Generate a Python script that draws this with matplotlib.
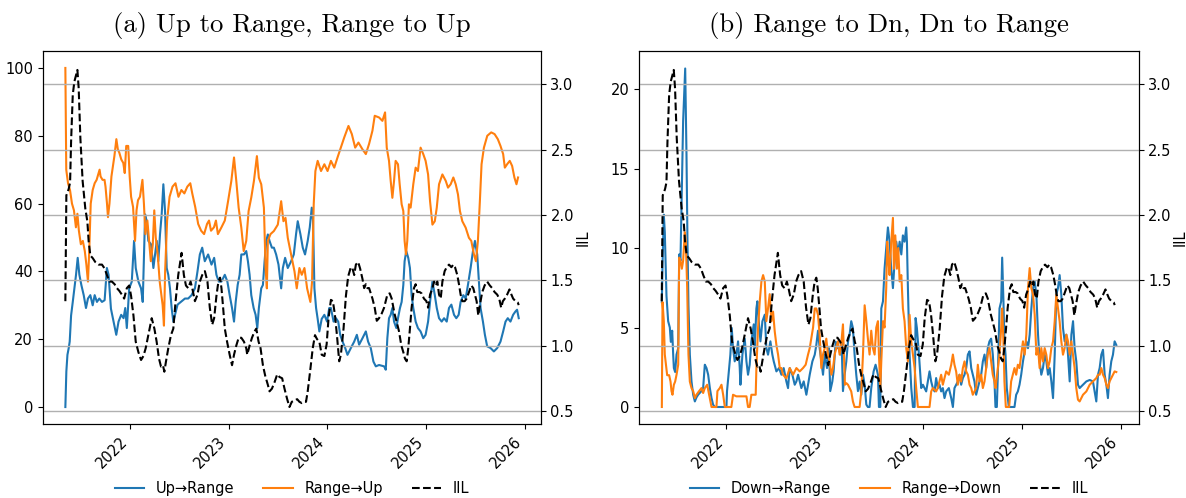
import matplotlib
matplotlib.use("Agg")
import matplotlib.pyplot as plt
import matplotlib.dates as mdates
import pandas as pd

plt.rcParams["font.family"] = ["DejaVu Sans"]
plt.rcParams["font.size"] = 10.5

# ---------------- data (decimal year, value) ----------------
UP_RANGE = [(2021.343,0),(2021.353,10.5),(2021.364,15.4),(2021.377,17.4),(2021.387,19.3),(2021.401,27),(2021.418,31),(2021.438,36),(2021.451,39),(2021.468,44),(2021.485,39),(2021.505,36),(2021.529,33),(2021.552,29.2),(2021.572,32),(2021.596,33),(2021.620,30),(2021.640,33),(2021.663,31),(2021.687,32),(2021.714,31),(2021.741,31.5),(2021.764,41),(2021.781,39),(2021.805,29),(2021.832,25.2),(2021.859,21.3),(2021.882,25.2),(2021.909,27.2),(2021.933,26.2),(2021.950,29.2),(2021.966,23.3),(2021.990,35),(2022.017,37),(2022.040,49),(2022.057,41),(2022.084,37),(2022.111,35),(2022.128,31),(2022.152,56.8),(2022.168,54.8),(2022.185,49),(2022.212,48),(2022.236,41),(2022.253,45),(2022.270,49),(2022.286,43),(2022.303,50.9),(2022.320,56.8),(2022.337,65.7),(2022.354,57.8),(2022.371,41),(2022.387,39),(2022.404,35),(2022.421,29.2),(2022.438,25.2),(2022.455,27.2),(2022.481,30.2),(2022.515,31),(2022.556,32),(2022.589,32),(2022.623,33),(2022.657,35),(2022.683,40),(2022.707,45),(2022.731,47),(2022.757,43),(2022.791,45),(2022.825,42),(2022.852,44),
            (2022.875,39),(2022.899,37),(2022.926,37),(2022.960,39),(2022.986,37),(2023.010,33),(2023.034,29.2),(2023.054,25.2),(2023.071,31),(2023.091,36),(2023.111,39),(2023.128,45),(2023.155,45),(2023.178,46),(2023.195,43),(2023.212,39),(2023.229,33),(2023.253,29.2),(2023.273,27.2),(2023.290,23.3),(2023.306,29.2),(2023.330,35),(2023.347,36),(2023.364,43),(2023.381,49),(2023.397,50.9),(2023.414,49),(2023.438,47),(2023.458,47),(2023.481,45),(2023.505,42),(2023.532,35),(2023.549,41),(2023.572,44),(2023.599,41),(2023.633,43),(2023.660,45),(2023.683,51),(2023.700,54.8),(2023.727,51),(2023.751,47),(2023.774,45),(2023.801,49),(2023.822,53),(2023.842,58.8),(2023.855,55),(2023.869,35),(2023.886,29.2),(2023.902,26),(2023.919,22.3),(2023.943,26),(2023.970,27.2),(2023.997,25.2),(2024.020,29.2),(2024.037,29.2),(2024.064,25.2),(2024.088,26.2),(2024.111,25.2),(2024.131,21.3),(2024.155,19.3),(2024.182,17.4),(2024.205,15.4),(2024.239,17.4),(2024.273,19.3),(2024.300,21.3),(2024.323,18.4),(2024.357,20.3),(2024.391,22.3),(2024.414,19.3),(2024.441,17.4),(2024.468,13.4),(2024.492,12),
            (2024.525,12.4),(2024.576,12),(2024.593,11),(2024.609,20.3),(2024.626,26.2),(2024.643,27.2),(2024.660,29.2),(2024.677,25.2),(2024.700,23.3),(2024.717,26.2),(2024.737,29.2),(2024.754,31),(2024.771,36),(2024.784,43),(2024.801,46),(2024.821,44),(2024.838,41),(2024.855,33),(2024.872,29.2),(2024.896,25.2),(2024.919,23.3),(2024.946,22.3),(2024.973,20.3),(2024.997,21.3),(2025.020,25.2),(2025.040,31),(2025.064,37),(2025.088,33),(2025.108,29.2),(2025.131,26.2),(2025.158,25.2),(2025.182,26.2),(2025.209,25.2),(2025.232,29.2),(2025.256,30.2),(2025.283,27.2),(2025.306,26.2),(2025.330,27.2),(2025.350,31),(2025.377,33),(2025.401,32),(2025.424,36),(2025.451,41),(2025.475,46),(2025.495,49),(2025.518,45),(2025.535,37),(2025.552,29.2),(2025.576,25.2),(2025.596,21.3),(2025.619,17.9),(2025.653,17.4),(2025.687,16.4),(2025.721,17.4),(2025.754,19.3),(2025.781,22.3),(2025.805,25.2),(2025.828,26.2),(2025.855,25.2),(2025.882,27.2),(2025.906,28.2),(2025.922,28.7),(2025.939,26.2)]

RANGE_UP = [(2021.343,100),(2021.352,70),(2021.370,66),(2021.390,64),(2021.410,60),(2021.430,58),(2021.450,53),(2021.465,57),(2021.480,52),(2021.500,48),(2021.520,49),(2021.540,46),(2021.556,42),(2021.572,37),(2021.585,46),(2021.600,60),(2021.620,64),(2021.640,66),(2021.660,67),(2021.690,70),(2021.700,68),(2021.720,67),(2021.740,67),(2021.750,65),(2021.765,60),(2021.775,56),(2021.790,60),(2021.810,68),(2021.840,74),(2021.860,79),(2021.875,76),(2021.890,75),(2021.910,73),(2021.930,72),(2021.945,69),(2021.960,77),(2021.980,77),(2021.995,68),(2022.010,62),(2022.030,59),(2022.050,49),(2022.065,58),(2022.080,61),(2022.100,62),(2022.125,67),(2022.140,60),(2022.155,51),(2022.175,55),(2022.190,50),(2022.210,43),(2022.230,48),(2022.245,58),(2022.260,50),(2022.280,45),(2022.300,37),(2022.330,30),(2022.343,24),(2022.355,40),(2022.375,55),(2022.400,62),(2022.430,65),(2022.460,66),(2022.490,62),(2022.520,64),(2022.550,63),(2022.580,65),(2022.610,66),(2022.630,63),(2022.660,59),(2022.690,54),(2022.720,52),(2022.750,51),(2022.780,54),(2022.800,55),(2022.820,52),(2022.850,53),(2022.870,55),(2022.890,51),
            (2022.926,53),(2022.960,55),(2022.993,60.7),(2023.027,66.7),(2023.054,73.6),(2023.077,66.7),(2023.101,58.8),(2023.128,52.9),(2023.152,46),(2023.178,49),(2023.202,57.8),(2023.229,61.8),(2023.256,66.7),(2023.286,74),(2023.306,67.6),(2023.330,65.7),(2023.357,58.8),(2023.374,41),(2023.387,35),(2023.397,49),(2023.424,51),(2023.458,51.9),(2023.498,53.8),(2023.532,60.7),(2023.555,54.8),(2023.576,55.8),(2023.599,49.9),(2023.633,45),(2023.667,40),(2023.690,35),(2023.717,41),(2023.741,39),(2023.768,41),(2023.795,35),(2023.828,31),(2023.845,37),(2023.862,59.8),(2023.879,69.6),(2023.902,72.6),(2023.936,69.6),(2023.970,71.6),(2024.003,69.6),(2024.037,72.6),(2024.071,70.6),(2024.104,73.6),(2024.138,76.5),(2024.172,79.5),(2024.215,82.9),(2024.249,80.5),(2024.283,76.5),(2024.316,78),(2024.357,76),(2024.391,74.6),(2024.424,77.6),(2024.458,81.5),(2024.481,85.9),
            (2024.525,85.4),(2024.559,84.4),(2024.586,86.9),(2024.603,76.5),(2024.626,72.6),(2024.643,66.7),(2024.660,61.7),(2024.677,66.7),(2024.693,72.6),(2024.717,71.6),(2024.734,65.7),(2024.754,59.8),(2024.771,57.8),(2024.784,49),(2024.798,45),(2024.811,49),(2024.828,59.8),(2024.845,58.8),(2024.872,65.7),(2024.896,70.6),(2024.919,69.6),(2024.946,76.5),(2024.973,74.6),(2024.997,72.6),(2025.020,68.6),(2025.040,60.7),(2025.064,53.8),(2025.088,54.8),(2025.108,58.8),(2025.131,65.7),(2025.165,68.6),(2025.199,66.7),(2025.222,64.7),(2025.249,65.7),(2025.276,67.7),(2025.300,65.7),(2025.323,62.7),(2025.343,57.8),(2025.367,54.8),(2025.401,52.9),(2025.434,49.9),(2025.458,49),(2025.485,45),(2025.505,43),(2025.525,49),(2025.545,60.7),(2025.562,71.6),(2025.586,76.5),(2025.620,80),(2025.660,81),(2025.694,80.5),(2025.727,79),(2025.754,77),(2025.781,74.6),(2025.798,70.6),(2025.821,71.6),(2025.848,72.6),(2025.872,71.1),(2025.895,67.7),(2025.916,65.7),(2025.932,67.7)]

IIL = [(2021.343,1.34),(2021.353,2.15),(2021.364,2.17),(2021.377,2.20),(2021.391,2.25),(2021.401,2.56),(2021.418,2.92),(2021.434,3.02),(2021.451,3.07),(2021.465,3.11),(2021.478,2.97),(2021.495,2.59),(2021.518,2.26),(2021.545,2.05),(2021.566,1.95),(2021.579,1.80),(2021.596,1.69),(2021.620,1.67),(2021.646,1.64),(2021.680,1.62),(2021.714,1.62),(2021.741,1.59),(2021.764,1.54),(2021.791,1.49),(2021.815,1.49),(2021.842,1.47),(2021.865,1.44),(2021.889,1.42),(2021.916,1.39),(2021.939,1.36),(2021.966,1.44),(2021.990,1.46),(2022.010,1.38),(2022.034,1.23),(2022.057,1.03),(2022.084,0.95),(2022.111,0.89),(2022.135,0.92),(2022.158,0.98),(2022.185,1.08),(2022.219,1.21),(2022.246,1.13),(2022.269,1.03),(2022.293,0.90),(2022.313,0.84),(2022.333,0.85),(2022.347,0.80),(2022.364,0.88),(2022.387,0.98),(2022.414,1.08),(2022.438,1.13),(2022.461,1.34),(2022.488,1.54),(2022.522,1.71),(2022.545,1.54),(2022.566,1.46),(2022.589,1.44),(2022.613,1.49),(2022.630,1.44),(2022.657,1.34),(2022.683,1.39),(2022.707,1.49),(2022.731,1.54),(2022.758,1.57),(2022.784,1.49),(2022.808,1.29),(2022.832,1.16),(2022.852,1.21),
       (2022.875,1.38),(2022.895,1.49),(2022.912,1.52),(2022.926,1.44),(2022.943,1.29),(2022.960,1.13),(2022.983,1.03),(2023.010,0.93),(2023.034,0.85),(2023.054,0.93),(2023.077,1.00),(2023.101,1.06),(2023.128,1.06),(2023.155,1.03),(2023.178,0.98),(2023.188,0.93),(2023.212,1.00),(2023.236,1.06),(2023.263,1.11),(2023.280,1.13),(2023.303,1.03),(2023.323,0.98),(2023.347,0.85),(2023.370,0.77),(2023.397,0.70),(2023.414,0.65),(2023.438,0.67),(2023.465,0.72),(2023.492,0.78),(2023.515,0.76),(2023.542,0.75),(2023.566,0.67),(2023.593,0.59),(2023.616,0.53),(2023.640,0.57),(2023.667,0.58),(2023.694,0.59),(2023.717,0.57),(2023.741,0.56),(2023.768,0.57),(2023.784,0.57),(2023.801,0.65),(2023.825,0.80),(2023.852,0.98),(2023.875,1.08),(2023.895,1.05),(2023.919,1.03),(2023.943,0.93),(2023.970,0.92),(2023.993,1.01),(2024.013,1.21),(2024.037,1.35),(2024.057,1.34),(2024.077,1.24),(2024.098,1.08),(2024.121,0.88),(2024.138,0.93),(2024.165,1.13),(2024.189,1.38),(2024.212,1.53),(2024.239,1.60),(2024.256,1.59),(2024.273,1.54),(2024.290,1.62),(2024.313,1.64),(2024.333,1.59),(2024.357,1.51),(2024.374,1.44),(2024.391,1.47),(2024.407,1.44),(2024.424,1.44),(2024.458,1.36),(2024.481,1.29),(2024.502,1.19),(2024.525,1.21),(2024.549,1.24),(2024.576,1.29),(2024.593,1.34),(2024.609,1.39),(2024.633,1.40),(2024.653,1.36),(2024.670,1.29),(2024.683,1.24),(2024.704,1.18),(2024.727,1.11),(2024.751,1.00),(2024.771,0.95),(2024.788,0.90),(2024.805,0.88),(2024.821,0.98),(2024.838,1.13),(2024.855,1.29),(2024.879,1.44),(2024.896,1.47),(2024.912,1.41),(2024.936,1.41),(2024.956,1.40),(2024.980,1.36),(2025.003,1.34),(2025.020,1.29),(2025.040,1.39),(2025.064,1.44),(2025.081,1.49),(2025.098,1.46),(2025.114,1.49),(2025.131,1.39),(2025.148,1.36),(2025.165,1.49),(2025.188,1.57),(2025.209,1.60),(2025.232,1.62),(2025.256,1.60),(2025.276,1.62),(2025.293,1.60),(2025.316,1.54),(2025.333,1.47),(2025.350,1.39),(2025.367,1.34),(2025.391,1.34),(2025.411,1.36),(2025.434,1.41),(2025.458,1.46),(2025.478,1.44),(2025.495,1.39),(2025.512,1.34),(2025.529,1.23),(2025.545,1.31),(2025.569,1.41),(2025.593,1.46),(2025.619,1.49),(2025.646,1.46),(2025.670,1.44),(2025.694,1.41),(2025.721,1.39),(2025.741,1.36),(2025.761,1.29),(2025.778,1.34),(2025.798,1.36),(2025.821,1.39),(2025.845,1.43),(2025.865,1.39),(2025.882,1.36),(2025.906,1.34),(2025.929,1.33),(2025.939,1.31)]

DOWN_RANGE = [(2021.344,6.6),(2021.351,9),(2021.364,12.1),(2021.374,11),(2021.391,7),(2021.408,5.4),(2021.425,5.0),(2021.435,4.1),(2021.449,4.8),(2021.459,3.3),(2021.466,2.45),(2021.479,2.2),(2021.493,3.3),(2021.510,3.7),(2021.520,9.6),(2021.533,9.2),(2021.547,13.8),(2021.560,18),(2021.581,21.3),(2021.594,15.9),(2021.604,10.4),(2021.614,6.4),(2021.628,3.3),(2021.645,1.6),(2021.662,0.77),(2021.679,0.35),(2021.695,0.6),(2021.712,0.77),(2021.746,1.0),(2021.763,1.19),(2021.780,2.66),(2021.797,2.45),(2021.814,2.03),(2021.831,1.19),(2021.848,0.56),(2021.864,0.15),(2021.881,0),(2022.000,0),(2022.006,1.0),(2022.027,2.45),(2022.040,3.3),(2022.054,4.97),(2022.067,3.7),(2022.084,2.87),(2022.101,3.3),(2022.118,4.13),(2022.135,2.45),(2022.142,1.4),(2022.162,3.3),(2022.186,4.3),(2022.203,2.87),(2022.219,2.03),(2022.236,2.66),(2022.253,4.13),(2022.277,5.2),(2022.287,3.7),(2022.304,6.2),(2022.314,6.65),(2022.328,5.39),(2022.345,4.13),(2022.365,5.39),(2022.389,5.81),(2022.405,3.71),(2022.422,3.29),(2022.446,4.13),(2022.466,3.29),(2022.480,2.87),(2022.507,2.24),(2022.534,2.45),(2022.558,2.03),(2022.581,2.45),(2022.608,1.61),(2022.625,1.19),(2022.642,2.45),(2022.669,2.03),(2022.693,1.4),(2022.710,1.61),(2022.727,2.03),(2022.760,1.19),(2022.784,1.61),(2022.811,0.77),(2022.828,1.4),(2022.845,2.03),(2022.872,2.87),(2022.896,3.29),
              (2022.912,3.9),(2022.929,4.8),(2022.946,3.7),(2022.963,2.87),(2022.980,2.03),(2022.997,3.3),(2023.021,2.45),(2023.041,3.7),(2023.054,1.0),(2023.075,1.6),(2023.088,2.24),(2023.109,4.1),(2023.122,3.7),(2023.142,3.7),(2023.156,3.3),(2023.169,4.1),(2023.183,1.0),(2023.200,2.03),(2023.217,2.87),(2023.234,4.1),(2023.250,4.55),(2023.267,5.4),(2023.284,4.97),(2023.301,3.3),(2023.318,2.03),(2023.335,1.0),(2023.352,1.6),(2023.369,0.77),(2023.386,2.03),(2023.403,1.4),(2023.420,0.15),(2023.436,0),(2023.453,0),(2023.470,1.19),(2023.494,2.24),(2023.514,2.66),(2023.538,2.03),(2023.548,0),(2023.562,0),(2023.572,6.2),(2023.589,6.65),(2023.605,8.7),(2023.622,10.0),(2023.639,11.3),(2023.656,10.4),(2023.673,8.7),(2023.690,7.48),(2023.707,9.16),(2023.724,10.4),(2023.741,9.6),(2023.758,10.4),(2023.775,9.6),(2023.791,10.8),(2023.808,10.4),(2023.825,11.3),(2023.832,10.4),(2023.842,7.48),(2023.859,3.3),(2023.876,1.19),(2023.893,0),(2023.910,0),(2023.920,5.6),(2023.933,4.97),(2023.954,3.3),(2023.977,1.19),(2023.994,1.4),(2024.011,1.19),(2024.028,0.98),(2024.045,1.6),(2024.062,2.24),(2024.079,1.6),(2024.096,1.19),(2024.113,0.98),(2024.129,1.82),(2024.146,1.19),(2024.163,1.4),(2024.180,0.98),(2024.197,1.19),(2024.214,0.56),(2024.231,0.98),(2024.258,1.19),(2024.282,0.56),(2024.299,0),(2024.315,1.19),(2024.332,1.4),(2024.349,1.6),(2024.366,2.03),(2024.383,1.4),(2024.400,1.82),(2024.417,2.03),(2024.434,2.45),(2024.451,3.3),(2024.468,3.5),(2024.485,2.45),(2024.501,2.03),(2024.518,1.6),
              (2024.535,0.77),(2024.552,1.19),(2024.569,1.6),(2024.586,2.03),(2024.603,2.87),(2024.620,3.3),(2024.637,2.45),(2024.653,3.7),(2024.670,4.13),(2024.687,4.3),(2024.704,3.3),(2024.721,1.6),(2024.731,0),(2024.745,0),(2024.755,2.03),(2024.772,6.2),(2024.789,6.65),(2024.799,9.4),(2024.812,6.65),(2024.822,4.13),(2024.833,3.3),(2024.846,1.19),(2024.866,0),(2024.924,0),(2024.941,0.77),(2024.958,0.98),(2024.975,1.4),(2024.992,2.03),(2025.008,2.87),(2025.025,3.5),(2025.042,4.13),(2025.059,3.7),(2025.076,4.55),(2025.093,6.2),(2025.110,7.48),(2025.127,7.9),(2025.144,7.07),(2025.161,4.55),(2025.177,2.87),(2025.194,2.03),(2025.211,2.45),(2025.228,3.29),(2025.245,2.87),(2025.262,2.03),(2025.279,2.45),(2025.296,1.61),(2025.313,0.56),(2025.330,3.29),(2025.346,7.07),(2025.363,7.48),(2025.380,8.3),(2025.397,7.07),(2025.414,4.97),(2025.431,4.13),(2025.448,4.55),(2025.465,3.29),(2025.482,1.61),(2025.499,4.55),(2025.516,5.4),(2025.532,3.71),(2025.549,2.87),(2025.566,1.4),(2025.583,1.19),(2025.617,1.4),(2025.651,1.61),(2025.685,1.7),(2025.718,1.61),(2025.752,0.35),(2025.769,2.03),(2025.786,2.45),(2025.803,3.29),(2025.820,3.6),(2025.837,2.03),(2025.854,1.4),(2025.870,0.56),(2025.887,2.03),(2025.904,2.87),(2025.921,3.29),(2025.938,4.13),(2025.955,3.9)]

RANGE_DOWN = [(2021.344,0),(2021.351,6.6),(2021.364,5.4),(2021.374,3.3),(2021.398,2.0),(2021.418,2.0),(2021.432,1.6),(2021.442,1.0),(2021.452,0.77),(2021.466,1.4),(2021.479,1.6),(2021.493,2.03),(2021.510,2.66),(2021.520,9.4),(2021.533,9.2),(2021.547,8.7),(2021.560,9.2),(2021.577,11.0),(2021.587,10.4),(2021.601,7.5),(2021.614,3.3),(2021.628,1.6),(2021.645,1.19),(2021.662,1.0),(2021.679,0.56),(2021.695,0.77),(2021.722,1.0),(2021.746,1.19),(2021.763,0.88),(2021.780,1.19),(2021.804,1.4),(2021.824,0.77),(2021.837,0.35),(2021.848,0),(2021.898,0),(2021.908,1.0),(2021.932,1.19),(2021.949,1.4),(2021.966,0.77),(2021.983,0),(2022.050,0),(2022.067,0.77),(2022.101,0.67),(2022.203,0.67),(2022.219,0),(2022.236,0),(2022.253,0.77),(2022.297,0.77),(2022.304,2.45),(2022.321,5.0),(2022.338,6.65),(2022.355,7.9),(2022.372,8.3),(2022.389,7.9),(2022.405,5.4),(2022.422,6.2),(2022.439,7.1),(2022.456,5.4),(2022.473,6.0),(2022.490,4.76),(2022.507,3.9),(2022.524,3.3),(2022.541,2.45),(2022.558,2.45),(2022.574,2.03),(2022.608,1.8),(2022.642,2.45),(2022.676,2.03),(2022.710,2.45),(2022.743,2.24),(2022.777,2.45),(2022.804,2.66),(2022.828,3.3),(2022.845,3.7),(2022.879,5.0),(2022.896,6.2),
              (2022.912,6.2),(2022.929,5.8),(2022.946,4.5),(2022.963,2.45),(2022.980,3.3),(2022.997,3.7),(2023.014,4.3),(2023.031,3.3),(2023.048,2.87),(2023.065,2.03),(2023.082,2.45),(2023.099,3.3),(2023.115,3.7),(2023.132,4.13),(2023.149,3.3),(2023.162,3.7),(2023.183,5.2),(2023.193,3.3),(2023.203,1.4),(2023.217,1.5),(2023.234,1.4),(2023.250,1.19),(2023.267,0.98),(2023.284,0.35),(2023.301,0),(2023.352,0),(2023.369,0.98),(2023.386,3.3),(2023.403,6.4),(2023.420,5.4),(2023.436,4.3),(2023.453,3.3),(2023.470,4.8),(2023.487,3.7),(2023.504,3.3),(2023.521,5.0),(2023.538,5.4),(2023.548,3.3),(2023.562,1.19),(2023.572,2.87),(2023.589,5.4),(2023.605,5.0),(2023.622,7.48),(2023.632,10.4),(2023.645,9.2),(2023.656,8.3),(2023.673,10.4),(2023.690,11.9),(2023.700,8.7),(2023.714,10.8),(2023.730,8.7),(2023.744,10.0),(2023.758,7.9),(2023.775,8.3),(2023.791,6.2),(2023.808,5.4),(2023.825,3.7),(2023.842,2.87),(2023.859,5.8),(2023.876,4.13),(2023.893,3.3),(2023.910,2.45),(2023.926,1.19),(2023.943,0),(2024.062,0),(2024.079,0.98),(2024.096,1.19),(2024.129,0.98),(2024.146,1.19),(2024.163,1.6),(2024.180,2.03),(2024.197,1.4),(2024.214,1.82),(2024.231,2.24),(2024.258,2.03),(2024.282,2.66),(2024.299,3.3),(2024.315,2.66),(2024.332,2.24),(2024.349,1.4),(2024.366,2.03),(2024.383,1.6),(2024.400,2.45),(2024.417,2.87),(2024.434,2.24),(2024.451,2.03),(2024.468,1.4),(2024.485,1.19),(2024.501,0.77),(2024.518,0.98),
              (2024.535,1.19),(2024.552,2.66),(2024.569,1.61),(2024.586,2.03),(2024.603,1.19),(2024.620,1.61),(2024.637,2.45),(2024.653,3.29),(2024.670,3.71),(2024.687,2.87),(2024.704,2.03),(2024.721,1.61),(2024.731,1.19),(2024.755,2.45),(2024.772,3.29),(2024.789,4.97),(2024.799,6.2),(2024.812,4.13),(2024.822,1.61),(2024.836,0),(2024.870,0),(2024.890,1.61),(2024.907,2.03),(2024.924,2.45),(2024.941,2.03),(2024.958,2.66),(2024.975,2.45),(2024.992,3.29),(2025.008,4.13),(2025.025,3.29),(2025.042,4.55),(2025.059,7.48),(2025.076,8.74),(2025.093,7.48),(2025.110,7.07),(2025.127,5.81),(2025.144,3.29),(2025.161,3.71),(2025.177,2.45),(2025.194,3.71),(2025.211,2.87),(2025.228,3.71),(2025.245,3.29),(2025.262,2.45),(2025.279,2.87),(2025.296,3.71),(2025.313,4.13),(2025.330,5.39),(2025.346,7.07),(2025.363,6.23),(2025.380,5.39),(2025.397,4.13),(2025.414,3.29),(2025.431,3.71),(2025.448,4.55),(2025.465,4.13),(2025.482,3.29),(2025.499,4.13),(2025.516,3.29),(2025.532,2.45),(2025.549,1.19),(2025.566,0.46),(2025.583,0.35),(2025.617,0.77),(2025.651,0.98),(2025.685,1.4),(2025.718,1.61),(2025.752,1.82),(2025.769,2.03),(2025.786,2.03),(2025.803,2.45),(2025.820,2.03),(2025.837,1.82),(2025.854,1.4),(2025.870,1.19),(2025.887,1.61),(2025.904,1.82),(2025.921,2.03),(2025.938,2.24),(2025.955,2.2)]

TITLES = ["(a) Up to Range, Range to Up", "(b) Range to Dn, Dn to Range"]
LABELS = [["Up\u2192Range", "Range\u2192Up", "IIL"], ["Down\u2192Range", "Range\u2192Down", "IIL"]]
IIL_TICKS = [0.5, 1.0, 1.5, 2.0, 2.5, 3.0]


def to_dates(pairs):
    out = []
    for y, _ in pairs:
        yi = int(y)
        out.append(pd.Timestamp(yi, 1, 1) + pd.Timedelta(days=(y - yi) * 365.25))
    return out


def vals(pairs):
    return [v for _, v in pairs]


fig = plt.figure(figsize=(11.86, 4.98), dpi=100)
axes = [fig.add_axes([0.036, 0.1486, 0.4205, 0.749]),
        fig.add_axes([0.5388, 0.1486, 0.4216, 0.749])]

panels = [(UP_RANGE, RANGE_UP, (-5, 105)), (DOWN_RANGE, RANGE_DOWN, (-1.07, 22.4))]

for i, (ax, (blue, orange, ylim)) in enumerate(zip(axes, panels)):
    l1, = ax.plot(to_dates(blue), vals(blue), color="#1f77b4", lw=1.5)
    l2, = ax.plot(to_dates(orange), vals(orange), color="#ff7f0e", lw=1.5)
    ax.set_ylim(*ylim)
    axr = ax.twinx()
    l3, = axr.plot(to_dates(IIL), vals(IIL), color="black", ls="--", lw=1.5)
    axr.set_ylim(0.40, 3.255)
    axr.set_yticks(IIL_TICKS)
    axr.tick_params(axis="y", pad=3)
    axr.grid(True, axis="y", color="#b0b0b0", lw=1)
    axr.set_ylabel("IIL", labelpad=1)
    ax.xaxis.set_major_locator(mdates.YearLocator())
    ax.xaxis.set_major_formatter(mdates.DateFormatter("%Y"))
    for lab in ax.get_xticklabels():
        lab.set_rotation(45)
        lab.set_ha("right")
    ax.set_title(TITLES[i], fontfamily="cmr10", fontsize=19.2, pad=14)
    ax.legend([l1, l2, l3], LABELS[i], loc="center", bbox_to_anchor=(0.5, -0.172),
              ncol=3, frameon=False)

fig.savefig("out.png", dpi=100)
